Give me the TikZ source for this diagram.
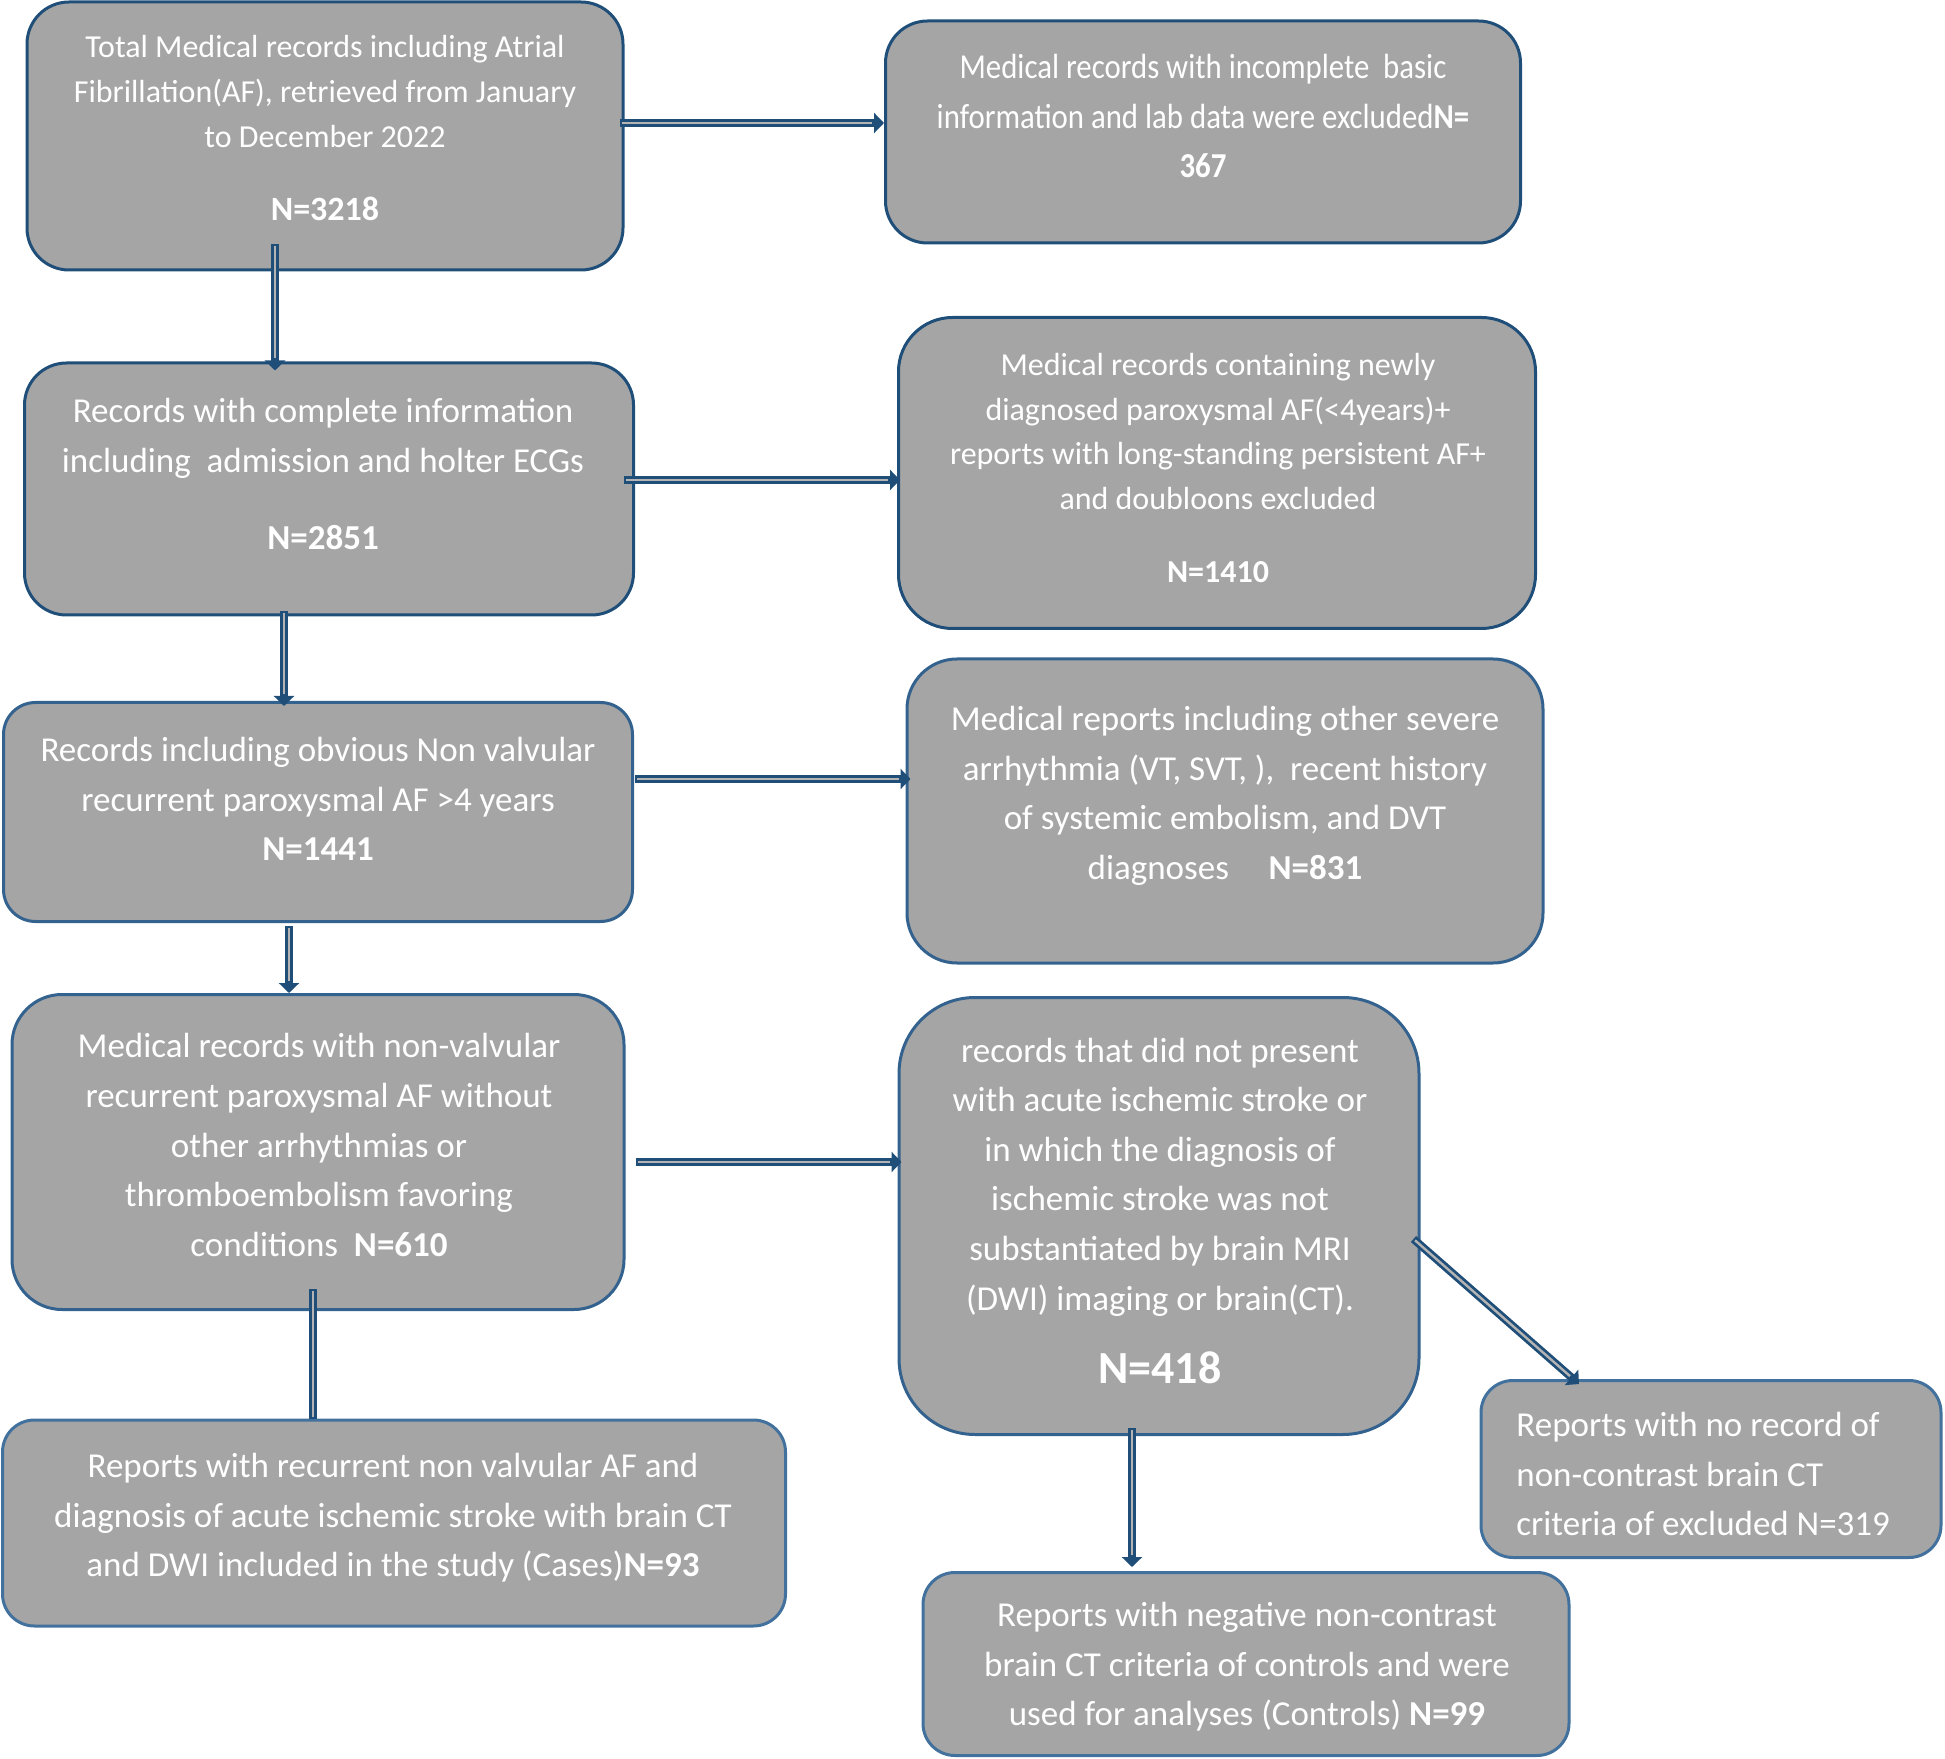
\documentclass[tikz,border=0pt]{standalone}
\usepackage{fontspec}
\setmainfont{Carlito}
\newfontfamily\condfont[FakeStretch=0.88]{Carlito}
\usetikzlibrary{arrows.meta}
\definecolor{bdark}{HTML}{1F4E79}
\definecolor{bmid}{HTML}{34628F}
\definecolor{blight}{HTML}{41719C}
\definecolor{boxgrey}{HTML}{A5A5A5}
\definecolor{arrgrey}{HTML}{B4B4B4}
\definecolor{arrblue}{HTML}{1F4E79}
\tikzset{
  box/.style={draw=bdark, fill=boxgrey, line width=1.5pt, inner sep=0pt, rounded corners=#1},
  box/.default=21pt,
  txt/.style={text=white, align=center, inner sep=0pt, font=\fontsize{17.5}{24.8}\selectfont},
  txtsmall/.style={text=white, align=center, inner sep=0pt, font=\fontsize{16}{22.4}\selectfont},
  arr/.style={line width=4pt, draw=arrblue, -{Triangle[length=5pt,width=10pt]},
    postaction={draw=arrgrey, line width=1.2pt, -, shorten >=6pt, shorten <=1pt}},
  plainline/.style={line width=4pt, draw=arrblue,
    postaction={draw=arrgrey, line width=1.2pt, shorten >=1pt, shorten <=1pt}}
}
\begin{document}
\begin{tikzpicture}[x=0.5pt,y=-0.5pt]
\useasboundingbox (0,0) rectangle (1945,1759);
% boxes
\node[box=21pt, minimum width=298pt, minimum height=134pt] (B1) at (325,136) {};
\node[box=21pt, minimum width=317.5pt, minimum height=111pt] (R1) at (1203,132) {};
\node[box=21pt, minimum width=304.5pt, minimum height=126pt] (B2) at (329,489) {};
\node[box=27pt, minimum width=318.5pt, minimum height=155.5pt] (R2) at (1217,473) {};
\node[box=16pt, draw=bmid, minimum width=314.5pt, minimum height=109.5pt] (B3) at (318,812) {};
\node[box=25pt, draw=bmid, minimum width=318pt, minimum height=152pt] (R3) at (1225,811) {};
\node[box=25pt, draw=bmid, minimum width=306pt, minimum height=157.5pt] (B4) at (318,1152) {};
\node[box=38pt, draw=bmid, minimum width=260pt, minimum height=218.5pt] (R4) at (1159,1216) {};
\node[box=16pt, draw=blight, minimum width=391.5pt, minimum height=103pt] (B5) at (394,1523) {};
\node[box=16pt, draw=blight, minimum width=230pt, minimum height=88.5pt] (R5) at (1711,1469) {};
\node[box=16pt, draw=blight, minimum width=323pt, minimum height=91.5pt] (B6) at (1246,1664) {};
% texts
\node[txtsmall] (T1) at (325,128) {Total Medical records including Atrial\\Fibrillation(AF), retrieved from January\\to December 2022\\[14pt]{\fontsize{17}{22.4}\selectfont\textbf{N=3218}}};
\node[txt, font=\fontsize{17.5}{24.8}\condfont] (TR1) at (1203,116) {Medical records with incomplete\ \ basic\\information and lab data were excluded\textbf{N=}\\\textbf{367}};
\node[txt] (T2) at (323,474) {Records with complete information\\including\ \ admission and holter ECGs\\[14pt]\textbf{N=2851}};
\node[txtsmall] (TR2) at (1218,468) {Medical records containing newly\\diagnosed paroxysmal AF(<4years)+\\reports with long-standing persistent AF+\\and doubloons excluded\\[14pt]\textbf{N=1410}};
\node[txt] (T3) at (318,799) {Records including obvious Non valvular\\recurrent paroxysmal AF >4 years\\\textbf{N=1441}};
\node[txt] (TR3) at (1225,796) {Medical reports including other severe\\arrhythmia (VT, SVT, ),\ \ recent history\\of systemic embolism, and DVT\\diagnoses\ \ \ \ \ \textbf{N=831}};
\node[txt] (T4) at (319,1145) {Medical records with non-valvular\\recurrent paroxysmal AF without\\other arrhythmias or\\thromboembolism favoring\\conditions\ \ \textbf{N=610}};
\node[txt] (TR4) at (1160,1211) {records that did not present\\with acute ischemic stroke or\\in which the diagnosis of\\ischemic stroke was not\\substantiated by brain MRI\\(DWI) imaging or brain(CT).\\[12pt]{\fontsize{23}{28}\selectfont\textbf{N=418}}};
\node[txt] (T5) at (393,1518) {Reports with recurrent non valvular AF and\\diagnosis of acute ischemic stroke with brain CT\\and DWI included in the study (Cases)\textbf{N=93}};
\node[txt, align=left, anchor=west] (TR5) at (1516,1474) {Reports with no record of\\non-contrast brain CT\\criteria of excluded N=319};
\node[txt] (T6) at (1247,1667) {Reports with negative non-contrast\\brain CT criteria of controls and were\\used for analyses (Controls) \textbf{N=99}};
% connectors
\draw[arr] ([shift={(-5,-13)}]B1.east) -- ([shift={(0,-9)}]R1.west);
\draw[arr] ([shift={(-50,-27)}]B1.south) -- ([shift={(-54,9)}]B2.north);
\draw[arr] ([shift={(-11,-9)}]B2.east) -- ([shift={(3,7)}]R2.west);
\draw[arr] ([shift={(-45,-5)}]B2.south) -- ([shift={(-34,5)}]B3.north);
\draw[arr] ([shift={(1,-33)}]B3.east) -- ([shift={(5,-32)}]R3.west);
\draw[arr] ([shift={(-29,3)}]B3.south) -- ([shift={(-29,0)}]B4.north);
\draw[arr] ([shift={(10,10)}]B4.east) -- ([shift={(4,-54)}]R4.west);
\draw[plainline] ([shift={(-5,-22)}]B4.south) -- ([shift={(-81,0)}]B5.north);
\draw[arr] ([shift={(-27,-8)}]R4.south) -- ([shift={(-114,-4)}]B6.north);
\draw[arr] ([shift={(-7,23)}]R4.east) -- ([shift={(-132,5)}]R5.north);
\end{tikzpicture}
\end{document}
